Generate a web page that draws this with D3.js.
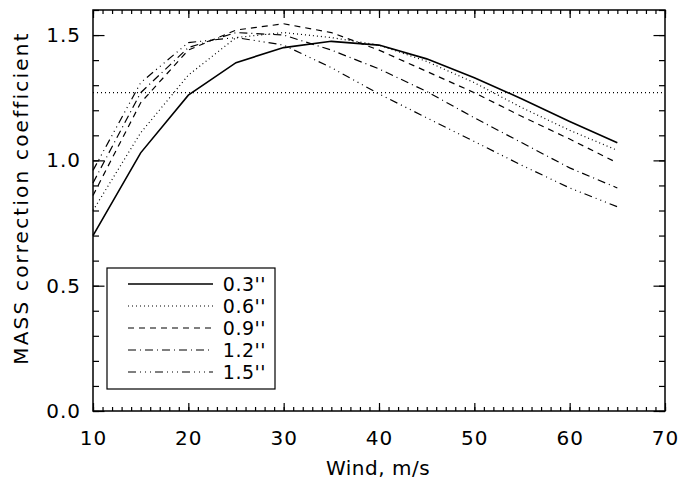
<!DOCTYPE html>
<html>
<head>
<meta charset="utf-8">
<script src="https://cdn.jsdelivr.net/npm/d3@7"></script>
<style>
  body { margin: 0; background: #fff; }
  svg text { font-family: "DejaVu Sans", "Liberation Sans", sans-serif; fill: #000; }
</style>
</head>
<body>
<script>
// wind speeds (m/s) where the curves were sampled
const wind = [10, 15, 20, 25, 30, 35, 40, 45, 50, 55, 60, 65];

// correction coefficient for each seeing value
const seeing03 = [0.70, 1.03, 1.26, 1.39, 1.45, 1.475, 1.46, 1.405, 1.33, 1.245, 1.155, 1.07];
const seeing06 = [0.80, 1.11, 1.34, 1.49, 1.51, 1.49, 1.46, 1.395, 1.31, 1.21, 1.12, 1.04];
const seeing09 = [0.86, 1.23, 1.44, 1.52, 1.545, 1.51, 1.44, 1.355, 1.27, 1.175, 1.085, 0.99];
const seeing12 = [0.91, 1.27, 1.45, 1.51, 1.50, 1.44, 1.365, 1.275, 1.17, 1.07, 0.97, 0.89];
const seeing15 = [0.96, 1.31, 1.47, 1.49, 1.46, 1.37, 1.265, 1.17, 1.075, 0.98, 0.89, 0.815];

const seriesLabels = ["0.3''", "0.6''", "0.9''", "1.2''", "1.5''"];
const seriesValues = [seeing03, seeing06, seeing09, seeing12, seeing15];

// horizontal reference level
const refLevel = 1.27;

const xTicks = [10, 20, 30, 40, 50, 60, 70];
const yTicks = [0.0, 0.5, 1.0, 1.5];

var width = 680, height = 482;
var plotLeft = 93, plotRight = 665, plotTop = 10, plotBottom = 411;

var svg = d3.select("body").append("svg")
	.attr("width", width)
	.attr("height", height);

var x = d3.scaleLinear().domain([10, 70]).range([plotLeft, plotRight]);
var y = d3.scaleLinear().domain([0, 1.6]).range([plotBottom, plotTop]);

// dash styles like the old IDL linestyles
var dashes = ["none", "1,3", "6,5", "8,4,1,4", "8,4,1,4,1,4,1,4"];

// minor ticks first, then major ticks
function minor(axis, ticks) {
	return axis.tickValues(ticks).tickFormat("").tickSizeOuter(0);
}

var xMinor = d3.range(10, 70.001, 1);
var yMinor = d3.range(0, 1.6001, 0.1);

svg.append("g").attr("transform", "translate(0," + plotBottom + ")")
	.call(minor(d3.axisBottom(x), xMinor).tickSizeInner(-4));
svg.append("g").attr("transform", "translate(0," + plotTop + ")")
	.call(minor(d3.axisTop(x), xMinor).tickSizeInner(-4));
svg.append("g").attr("transform", "translate(" + plotLeft + ",0)")
	.call(minor(d3.axisLeft(y), yMinor).tickSizeInner(-6));
svg.append("g").attr("transform", "translate(" + plotRight + ",0)")
	.call(minor(d3.axisRight(y), yMinor).tickSizeInner(-6));

svg.append("g").attr("class", "x-axis").attr("transform", "translate(0," + plotBottom + ")")
	.call(d3.axisBottom(x).tickValues(xTicks).tickFormat(d3.format("d")).tickSizeInner(-8).tickSizeOuter(0).tickPadding(20));
svg.append("g").attr("transform", "translate(0," + plotTop + ")")
	.call(d3.axisTop(x).tickValues(xTicks).tickFormat("").tickSizeInner(-8).tickSizeOuter(0));
svg.append("g").attr("class", "y-axis").attr("transform", "translate(" + plotLeft + ",0)")
	.call(d3.axisLeft(y).tickValues(yTicks).tickFormat(d3.format(".1f")).tickSizeInner(-11.5).tickSizeOuter(0).tickPadding(12));
svg.append("g").attr("transform", "translate(" + plotRight + ",0)")
	.call(d3.axisRight(y).tickValues(yTicks).tickFormat("").tickSizeInner(-11.5).tickSizeOuter(0));

svg.selectAll(".domain").remove();
svg.selectAll(".tick line").attr("stroke", "#000").attr("stroke-width", 1.2);
svg.selectAll(".x-axis text, .y-axis text")
	.style("font-family", "DejaVu Sans")
	.style("font-size", "20px")
	.style("letter-spacing", "1px");

// frame
svg.append("rect")
	.attr("x", plotLeft).attr("y", plotTop)
	.attr("width", plotRight - plotLeft).attr("height", plotBottom - plotTop)
	.attr("fill", "none").attr("stroke", "#000").attr("stroke-width", 1.5);

// reference line
svg.append("line")
	.attr("x1", plotLeft).attr("x2", plotRight)
	.attr("y1", y(refLevel)).attr("y2", y(refLevel))
	.attr("stroke", "#000").attr("stroke-width", 1.2)
	.attr("stroke-dasharray", dashes[1]);

var line = d3.line()
	.x(function (d, i) { return x(wind[i]); })
	.y(function (d) { return y(d); });

svg.append("g").selectAll("path")
	.data(seriesValues)
	.enter()
	.append("path")
	.attr("d", line)
	.attr("fill", "none")
	.attr("stroke", "#000")
	.attr("stroke-width", function (d, i) { return i == 0 ? 1.6 : 1.2; })
	.attr("stroke-dasharray", function (d, i) { return dashes[i]; });

// legend
var legend = svg.append("g");
legend.append("rect")
	.attr("x", 107).attr("y", 268)
	.attr("width", 168).attr("height", 121)
	.attr("fill", "#fff").attr("stroke", "#000").attr("stroke-width", 1.2);

var rows = legend.selectAll("g.row")
	.data(seriesLabels)
	.enter()
	.append("g")
	.attr("class", "row")
	.attr("transform", function (d, i) { return "translate(0," + (284 + i * 22) + ")"; });

rows.append("line")
	.attr("x1", 128).attr("x2", 213)
	.attr("stroke", "#000")
	.attr("stroke-width", function (d, i) { return i == 0 ? 1.6 : 1.2; })
	.attr("stroke-dasharray", function (d, i) { return dashes[i]; });

rows.append("text")
	.attr("x", 266)
	.attr("y", 7)
	.attr("text-anchor", "end")
	.style("font-size", "19px")
	.style("letter-spacing", "0.5px")
	.text(function (d) { return d; });

// axis titles
svg.append("text")
	.attr("x", 378)
	.attr("y", 475)
	.attr("text-anchor", "middle")
	.style("font-size", "20px")
	.style("letter-spacing", "0.5px")
	.text("Wind, m/s");

svg.append("text")
	.attr("transform", "translate(28,198) rotate(-90)")
	.attr("text-anchor", "middle")
	.style("font-size", "20px")
	.style("letter-spacing", "2.2px")
	.text("MASS correction coefficient");
</script>
</body>
</html>
